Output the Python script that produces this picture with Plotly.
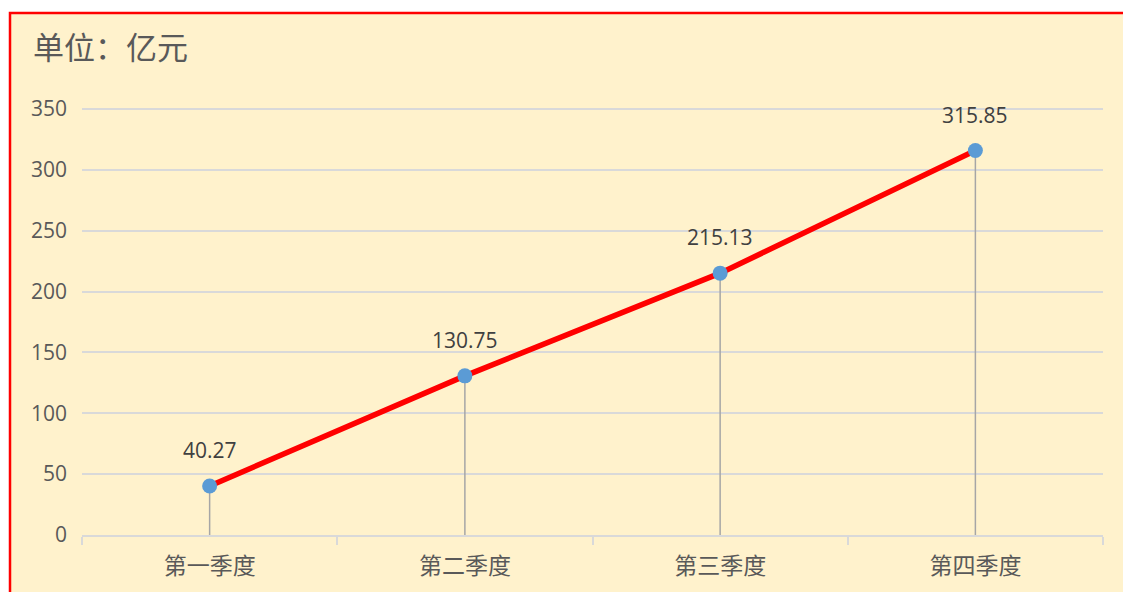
import plotly.graph_objects as go

categories = ["第一季度", "第二季度", "第三季度", "第四季度"]
values = [40.27, 130.75, 215.13, 315.85]
y_ticks = [0, 50, 100, 150, 200, 250, 300, 350]
title_text = "单位：亿元"

W, H = 1123, 592
L, R, T, B = 82, 20, 104, 57
pw, ph = W - L - R, H - T - B
y_top_px = 109
scale = (H - B - y_top_px) / max(y_ticks)
y_max = max(y_ticks) + (y_top_px - T) / scale

fig = go.Figure()

# drop lines
dx, dy = [], []
for c, v in zip(categories, values):
    dx += [c, c, None]
    dy += [0, v, None]
fig.add_trace(go.Scatter(x=dx, y=dy, mode="lines",
                         line=dict(color="#A6A6A6", width=1.5),
                         hoverinfo="skip", showlegend=False))

fig.add_trace(go.Scatter(x=categories, y=values, mode="lines+markers",
                         line=dict(color="#FF0000", width=5.5),
                         marker=dict(size=15, color="#5B9BD5"),
                         showlegend=False))

for c, v in zip(categories, values):
    fig.add_annotation(x=c, y=v, text=f"{v:.2f}", showarrow=False,
                       yshift=36, font=dict(size=21, color="#404040",
                                            family="Open Sans, Noto Sans"))

fig.add_annotation(xref="paper", yref="paper",
                   x=(31 - L) / pw, y=(H - B - 45) / ph,
                   xanchor="left", yanchor="middle", showarrow=False,
                   text=title_text,
                   font=dict(size=31, color="#595959", family="Noto Sans CJK SC"))

# background panel with red border
fig.add_shape(type="rect", xref="paper", yref="paper",
              x0=(10 - L) / pw, x1=(W + 20 - L) / pw,
              y0=(H - B - (H + 20)) / ph, y1=(H - B - 13) / ph,
              fillcolor="#FFF2CC", line=dict(color="#FF0000", width=2.5),
              layer="below")

fig.update_layout(
    width=W, height=H,
    margin=dict(l=L, r=R, t=T, b=B),
    paper_bgcolor="white",
    plot_bgcolor="rgba(0,0,0,0)",
    xaxis=dict(type="category", categoryorder="array", categoryarray=categories,
               range=[-0.5, 3.5], showgrid=False, zeroline=False,
               showline=True, linecolor="#D9D9D9", linewidth=1.5,
               ticks="outside", tickson="boundaries", ticklen=8,
               tickcolor="#D9D9D9", tickwidth=1.5, ticklabelstandoff=10,
               tickfont=dict(size=23, color="#595959", family="Noto Sans CJK SC"),
               fixedrange=True),
    yaxis=dict(range=[0, y_max], tickvals=y_ticks, showgrid=True,
               gridcolor="#D9D9D9", gridwidth=1.5, zeroline=False,
               showline=False, ticks="", ticklabelstandoff=14,
               tickfont=dict(size=21, color="#595959", family="Open Sans, Noto Sans"),
               fixedrange=True),
)

fig.write_html("out.html", config={"displayModeBar": False},
               post_script="document.body.style.margin='0';document.body.style.padding='0';")
